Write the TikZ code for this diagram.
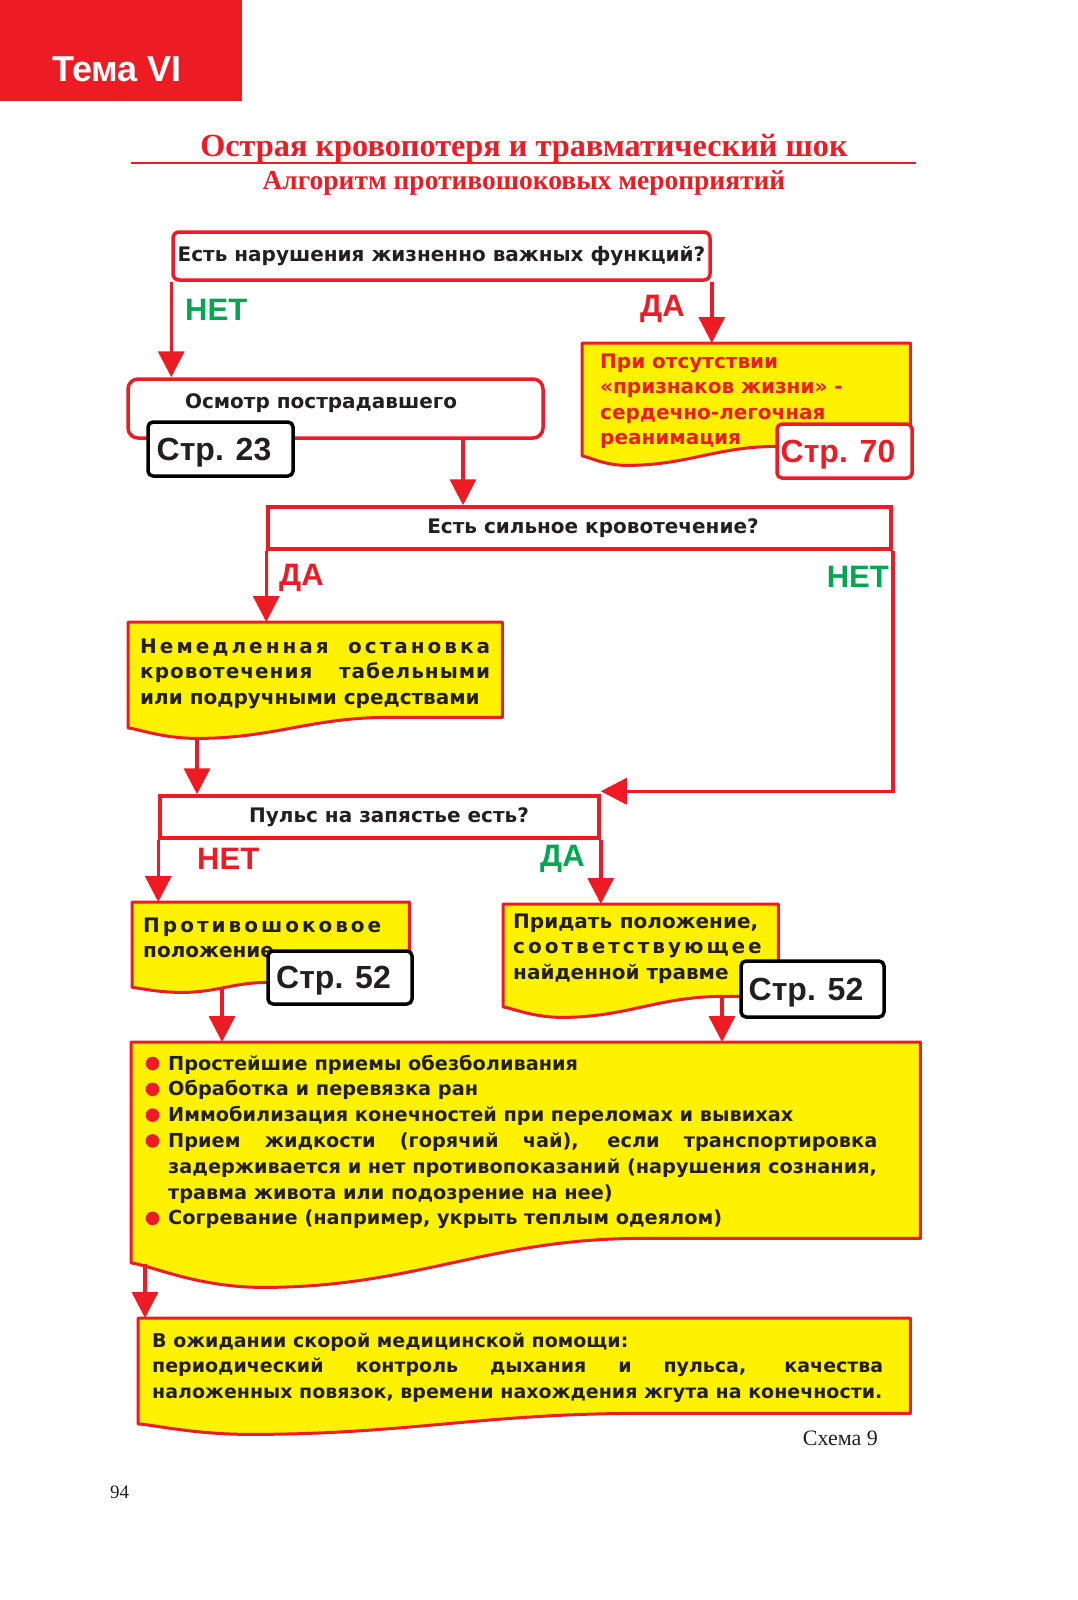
\documentclass[tikz,border=0pt]{standalone}
\usepackage{fontspec}
\setmainfont{Liberation Serif}
\setsansfont{Liberation Sans}
\newfontfamily\bodyfont{DejaVu Sans}
\usetikzlibrary{arrows.meta, positioning, calc, backgrounds}

\definecolor{thRed}{HTML}{ED1C24}
\definecolor{thYellow}{HTML}{FFF200}
\definecolor{thGreen}{HTML}{00A651}
\definecolor{thInk}{HTML}{231F20}

\newcommand{\just}[2]{\makebox[#1][s]{#2}}
\newcommand{\spaced}[2]{{\addfontfeature{LetterSpace=#1}#2}}
\newcommand{\rows}[1]{\begin{tabular}[t]{@{}l@{}}#1\end{tabular}}
% yellow box with a wavy lower edge: node, dip, x of dip, x where it turns flat
\newcommand{\docshape}[4]{%
  \path[docbox] (#1.north west) -- (#1.north east) -- (#1.south east)
    -- ([xshift=#4pt]#1.south west)
    .. controls ([shift={({0.6*#4+0.4*#3},0)}]#1.south west)
            and ([shift={({0.4*#4+0.6*#3},#2)}]#1.south west)
    .. ([shift={(#3,#2)}]#1.south west)
    .. controls ([shift={({0.5*#3},#2)}]#1.south west)
            and ([shift={({0.15*#3},{0.55*#2})}]#1.south west)
    .. ([shift={(0,{0.5*#2})}]#1.south west) -- cycle;
  \coordinate (#1-dip) at ([shift={(#3,#2)}]#1.south west);}

\tikzset{
  flow/.style    = {thRed, line width=3.5pt, -{Triangle[length=26pt, width=26pt]}},
  qbox/.style    = {draw=thRed, fill=white, line width=3.5pt, inner sep=0pt,
                    text height=14.6pt, text depth=4pt, text=thInk,
                    font=\bodyfont\bfseries\fontsize{20}{25.5}\selectfont},
  docnode/.style = {anchor=north west, inner sep=0pt},
  docbox/.style  = {draw=thRed, fill=thYellow, line width=3pt, line join=round},
  body/.style    = {anchor=base west, inner sep=0pt, text=thInk,
                    font=\bodyfont\bfseries\fontsize{20}{25.5}\selectfont},
  pagebox/.style = {draw=black, fill=white, line width=3.5pt, rounded corners=5pt,
                    inner sep=0pt, text height=22pt, text depth=0pt, text=thInk,
                    font=\sffamily\bfseries\fontsize{32}{32}\selectfont,
                    execute at end node=\hspace*{13pt}},
  ans/.style     = {anchor=base west, inner sep=0pt,
                    font=\sffamily\bfseries\fontsize{31}{31}\selectfont},
}

\begin{document}
\begin{tikzpicture}[x=1pt,y=-1pt]
  \useasboundingbox (0,0) rectangle (1078,1600);

  % heading
  \fill[thRed] (0,0) rectangle (242,101);
  \node[anchor=base, inner sep=0pt, text=white,
        font=\sffamily\bfseries\fontsize{36}{36}\selectfont] (tema) at (117,82) {Тема VI};
  \node[anchor=base, inner sep=0pt, text=thRed,
        font=\bfseries\fontsize{32.3}{33}\selectfont] (title) at (524,156)
    {Острая кровопотеря и травматический шок};
  \draw[thRed, line width=1.6pt] (131,163) -- (916,163);
  \node[anchor=base, inner sep=0pt, text=thRed,
        font=\bfseries\fontsize{27.5}{28}\selectfont] (subtitle) at (524,189)
    {Алгоритм противошоковых мероприятий};

  % first question
  \node[qbox, rounded corners=6pt, minimum width=537pt, minimum height=48pt] (vital)
    at (441.5,256) {Есть нарушения жизненно важных функций?};
  \node[ans, text=thGreen] (no1) at (185,320) {НЕТ};
  \node[ans, text=thRed] (yes1) at (640,316) {ДА};

  \node[qbox, rounded corners=10pt, minimum width=415pt, minimum height=59pt] (exam)
    at (335.5,408.5) {};
  \node[body, anchor=base] (examtxt) at (321,408) {Осмотр пострадавшего};
  \node[pagebox, minimum width=145pt, minimum height=54pt] (p23) at (220.5,449) {Стр. 23};

  \node[docnode, minimum width=328pt, minimum height=103pt] (cpr) at (582,343) {};
  \node[body, text=thRed] (cprtxt) at (600,368)
    {\rows{При отсутствии\\ «признаков жизни» -\\ сердечно-легочная\\ реанимация}};
  \node[pagebox, draw=thRed, text=thRed, minimum width=135pt, minimum height=54pt] (p70)
    at (844.5,451) {Стр. 70};

  % bleeding
  \node[qbox, minimum width=623pt, minimum height=42pt] (bleed) at (579.5,528)
    {\hspace*{27pt}Есть сильное кровотечение?};
  \node[ans, text=thRed] (yes2) at (279,585) {ДА};
  \node[ans, text=thGreen, anchor=base east] (no2) at (889,587) {НЕТ};

  \node[docnode, minimum width=374pt, minimum height=95pt] (stop) at (128,622) {};
  \node[body] (stoptxt) at (140,653)
    {\rows{\just{350pt}{\spaced{15}{Немедленная остановка}}\\
           \just{350pt}{\spaced{5}{кровотечения табельными}}\\
           или подручными средствами}};

  % pulse
  \node[qbox, minimum width=439pt, minimum height=42pt] (pulse) at (379.5,817)
    {\hspace*{19pt}Пульс на запястье есть?};
  \node[ans, text=thRed] (no3) at (197,869) {НЕТ};
  \node[ans, text=thGreen] (yes3) at (540,866) {ДА};

  \node[docnode, minimum width=277pt, minimum height=80pt] (anti) at (132,902) {};
  \node[body] (antitxt) at (143,932) {\rows{\spaced{15}{Противошоковое}\\ положение}};
  \node[pagebox, minimum width=144pt, minimum height=53pt] (p52a) at (340,977.5) {Стр. 52};

  \node[docnode, minimum width=275pt, minimum height=92pt] (pose) at (503,904) {};
  \node[body] (posetxt) at (513,928)
    {\rows{\just{245pt}{Придать положение,}\\
           \spaced{15}{соответствующее}\\
           найденной травме}};
  \node[pagebox, minimum width=143pt, minimum height=56pt] (p52b) at (812.5,989) {Стр. 52};

  % care list
  \node[docnode, minimum width=789pt, minimum height=196pt] (care) at (131,1042) {};
  \node[body, font=\bodyfont\bfseries\fontsize{19.3}{25.8}\selectfont] (caretxt) at (168,1070)
    {\rows{Простейшие приемы обезболивания\\
           Обработка и перевязка ран\\
           Иммобилизация конечностей при переломах и вывихах\\
           \just{709pt}{Прием жидкости (горячий чай), если транспортировка}\\
           задерживается и нет противопоказаний (нарушения сознания,\\
           травма живота или подозрение на нее)\\
           Согревание (например, укрыть теплым одеялом)}};
  \foreach \i in {0,1,2,3,6}
    \fill[thRed] ($(caretxt.base west)+(-15.5,{25.8*\i-6.5})$) circle (6.8);

  \node[docnode, minimum width=772pt, minimum height=95pt] (wait) at (138,1318) {};
  \node[body, font=\bodyfont\bfseries\fontsize{19}{25.5}\selectfont] (waittxt) at (152,1347)
    {\rows{В ожидании скорой медицинской помощи:\\
           \just{731pt}{периодический контроль дыхания и пульса, качества}\\
           наложенных повязок, времени нахождения жгута на конечности.}};

  \node[anchor=base east, inner sep=0pt, text=thInk, font=\fontsize{22}{22}\selectfont]
    (scheme) at (878,1445) {Схема 9};
  \node[anchor=base west, inner sep=0pt, text=thInk, font=\fontsize{19}{19}\selectfont]
    (pagenum) at (110,1498) {94};

  % yellow shapes behind the texts
  \begin{scope}[on background layer]
    \docshape{cpr}{19}{45}{195}
    \docshape{stop}{21}{69}{260}
    \docshape{anti}{10}{50}{136}
    \docshape{pose}{21}{59}{220}
    \docshape{care}{49}{132}{510}
    \docshape{wait}{21}{112}{502}
  \end{scope}

  % connectors
  \coordinate (examout) at ([xshift=127.5pt]exam.south);
  \coordinate (antiout) at ([shift={(90,5)}]anti.south west);
  \coordinate (poseout) at ([xshift=219pt]pose.south west);
  \coordinate (careout) at ([shift={(14,26)}]care.south west);
  \draw[flow] (vital.south west) -- (vital.south west |- exam.north);
  \draw[flow] (vital.south east) -- (vital.south east |- cpr.north);
  \draw[flow] (examout) -- (examout |- bleed.north);
  \draw[flow] (bleed.south west) -- (bleed.south west |- stop.north);
  \draw[flow] (bleed.south east) |- ([yshift=3pt]pulse.north east);
  \draw[flow] (stop-dip) -- (stop-dip |- pulse.north);
  \draw[flow] (pulse.south west) -- (pulse.south west |- anti.north);
  \draw[flow] (pulse.south east) -- (pulse.south east |- pose.north);
  \draw[flow] (antiout) -- (antiout |- care.north);
  \draw[flow] (poseout) -- (poseout |- care.north);
  \draw[flow] (careout) -- (careout |- wait.north);
\end{tikzpicture}
\end{document}
